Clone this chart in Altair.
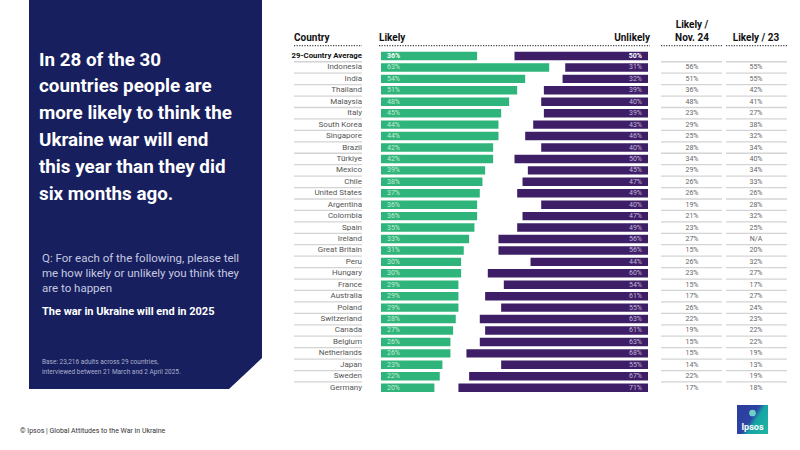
import altair as alt
import pandas as pd

countries = ["29-Country Average", "Indonesia", "India", "Thailand", "Malaysia", "Italy",
             "South Korea", "Singapore", "Brazil", "Türkiye", "Mexico", "Chile",
             "United States", "Argentina", "Colombia", "Spain", "Ireland", "Great Britain",
             "Peru", "Hungary", "France", "Australia", "Poland", "Switzerland", "Canada",
             "Belgium", "Netherlands", "Japan", "Sweden", "Germany"]
likely = [36, 63, 54, 51, 48, 45, 44, 44, 42, 42, 39, 38, 37, 36, 36, 35, 33, 31, 30, 30,
          29, 29, 29, 28, 27, 26, 26, 23, 22, 20]
unlikely = [50, 31, 32, 39, 40, 39, 43, 46, 40, 50, 45, 47, 49, 40, 47, 49, 56, 56, 44, 60,
            54, 61, 55, 63, 61, 63, 68, 55, 67, 71]
likely_nov24 = ["", "56%", "51%", "36%", "48%", "23%", "29%", "25%", "28%", "34%", "29%",
                "26%", "26%", "19%", "21%", "23%", "27%", "15%", "26%", "23%", "15%", "17%",
                "26%", "22%", "19%", "15%", "15%", "14%", "22%", "17%"]
likely_23 = ["", "55%", "55%", "42%", "41%", "27%", "38%", "32%", "34%", "40%", "34%", "33%",
             "26%", "28%", "32%", "25%", "N/A", "20%", "32%", "27%", "17%", "27%", "24%",
             "23%", "22%", "22%", "19%", "13%", "19%", "18%"]

title_lines = ["In 28 of the 30", "countries people are", "more likely to think the",
               "Ukraine war will end", "this year than they did", "six months ago."]
question_lines = ["Q: For each of the following, please tell",
                  "me how likely or unlikely you think they", "are to happen"]
statement = "The war in Ukraine will end in 2025"
base_lines = ["Base: 23,216 adults across 29 countries,",
              "interviewed between 21 March and 2 April 2025."]
footer = "© Ipsos | Global Attitudes to the War in Ukraine"

GREEN = "#2fb57b"
PURPLE = "#3e1f67"
NAVY = "#171f5e"
FONT = "Roboto"

df = pd.DataFrame({
    "country": countries,
    "likely": likely,
    "unlikely": unlikely,
    "nov24": likely_nov24,
    "y23": likely_23,
})
df["idx"] = range(len(df))

xs = alt.Scale(domain=[0, 100], range=[381, 648])
ys = alt.Scale(domain=[-0.5, 29.5], range=[50.3, 393.4])

base = alt.Chart(df).transform_calculate(
    zero="0",
    hundred="100",
    ustart="100 - datum.unlikely",
    y0="datum.idx - 0.37",
    y1="datum.idx + 0.37",
    yb="datum.idx + 0.5",
    llab="datum.likely + '%'",
    ulab="datum.unlikely + '%'",
)

green = base.mark_rect(color=GREEN).encode(
    x=alt.X("zero:Q", scale=xs, axis=None), x2="likely:Q",
    y=alt.Y("y0:Q", scale=ys, axis=None), y2="y1:Q")
purple = base.mark_rect(color=PURPLE).encode(
    x=alt.X("ustart:Q", scale=xs, axis=None), x2="hundred:Q",
    y=alt.Y("y0:Q", scale=ys, axis=None), y2="y1:Q")

rest = base.transform_filter("datum.idx > 0")
avg = base.transform_filter("datum.idx == 0")
Yc = alt.Y("idx:Q", scale=ys, axis=None)

lab_l = rest.mark_text(align="left", baseline="middle", dx=6, fontSize=7, font=FONT,
                       color="#c6ebd8").encode(
    x=alt.X("zero:Q", scale=xs, axis=None), y=Yc, text="llab:N")
lab_u = rest.mark_text(align="right", baseline="middle", dx=-6, fontSize=7, font=FONT,
                       color="#c4b6da").encode(
    x=alt.X("hundred:Q", scale=xs, axis=None), y=Yc, text="ulab:N")
avg_l = avg.mark_text(align="left", baseline="middle", dx=6, fontSize=7, font=FONT,
                      fontWeight="bold", color="white").encode(
    x=alt.X("zero:Q", scale=xs, axis=None), y=Yc, text="llab:N")
avg_u = avg.mark_text(align="right", baseline="middle", dx=-6, fontSize=7, font=FONT,
                      fontWeight="bold", color="white").encode(
    x=alt.X("hundred:Q", scale=xs, axis=None), y=Yc, text="ulab:N")

names = rest.mark_text(align="right", baseline="middle", fontSize=8, font=FONT,
                       color="#555555").encode(x=alt.value(362), y=Yc, text="country:N")
avg_name = avg.mark_text(align="right", baseline="middle", fontSize=7.8, font=FONT,
                         fontWeight="bold", color="#111111").encode(
    x=alt.value(362), y=Yc, text="country:N")
col1 = rest.mark_text(align="center", baseline="middle", fontSize=7, font=FONT,
                      color="#666666").encode(x=alt.value(692), y=Yc, text="nov24:N")
col2 = rest.mark_text(align="center", baseline="middle", fontSize=7, font=FONT,
                      color="#666666").encode(x=alt.value(756), y=Yc, text="y23:N")

sep = base.transform_filter("datum.idx < 29")
Yb = alt.Y("yb:Q", scale=ys, axis=None)
sep_layers = [
    sep.mark_rule(color="#d4d4d4", strokeWidth=1.3).encode(
        x=alt.value(x1), x2=alt.value(x2), y=Yb)
    for x1, x2 in [(294, 362), (661, 722), (726, 787)]
]

one = pd.DataFrame({"a": [1]})
deco = alt.Chart(one)


def txt(s, x, y, size, color, weight="normal", align="left"):
    return deco.mark_text(align=align, baseline="alphabetic", fontSize=size, font=FONT,
                          fontWeight=weight, color=color).encode(
        x=alt.value(x), y=alt.value(y), text=alt.value(s))


panel = deco.mark_point(
    shape="M-116.5,-194.5 L116.5,-194.5 L116.5,163.5 L83.5,194.5 L-116.5,194.5 Z",
    size=4, filled=True, fill=NAVY, opacity=1, strokeWidth=0).encode(
    x=alt.value(145.5), y=alt.value(194.5))

deco_layers = [panel]
for i, line in enumerate(title_lines):
    deco_layers.append(txt(line, 39, 65.5 + i * 26.9, 18.8, "white", "bold"))
for i, line in enumerate(question_lines):
    deco_layers.append(txt(line, 42, 262 + i * 15, 11.5, "#c6c9e0"))
deco_layers.append(txt(statement, 42, 315, 11, "white", "bold"))
for i, line in enumerate(base_lines):
    deco_layers.append(txt(line, 42, 364 + i * 10, 6.5, "#aab0cc"))
deco_layers.append(txt(footer, 20, 432.5, 7, "#333333"))

# headers
deco_layers += [
    txt("Country", 294, 40.5, 10, "#111111", "bold"),
    txt("Likely", 379, 40.5, 10, "#111111", "bold"),
    txt("Unlikely", 650, 40.5, 10, "#111111", "bold", "right"),
    txt("Likely /", 692, 28, 10, "#111111", "bold", "center"),
    txt("Nov. 24", 692, 40.5, 10, "#111111", "bold", "center"),
    txt("Likely / 23", 756, 40.5, 10, "#111111", "bold", "center"),
]
for x1, x2 in [(294, 362), (379, 650), (661, 722), (726, 787)]:
    deco_layers.append(deco.mark_rule(color="#444444", strokeWidth=1.2,
                                      strokeDash=[1.2, 1.4]).encode(
        x=alt.value(x1), x2=alt.value(x2), y=alt.value(45.7)))

# logo
grad = {"gradient": "linear", "x1": 0, "y1": 0.2, "x2": 1, "y2": 0.8,
        "stops": [{"offset": 0, "color": "#2b3d9e"}, {"offset": 0.45, "color": "#2d44a3"},
                  {"offset": 0.6, "color": "#16a3a5"}, {"offset": 1, "color": "#1fb3a4"}]}
deco_layers += [
    deco.mark_rect(color=grad).encode(x=alt.value(737), x2=alt.value(768),
                                      y=alt.value(405), y2=alt.value(434)),
    deco.mark_point(shape="circle", size=45, filled=True, color="#6fd0c8", opacity=1).encode(
        x=alt.value(752.5), y=alt.value(413)),
    txt("Ipsos", 752.5, 430, 9, "white", "bold", "center"),
]

chart = alt.layer(
    *deco_layers, green, purple, *sep_layers, lab_l, lab_u, avg_l, avg_u,
    names, avg_name, col1, col2,
).properties(
    width=800, height=450,
    autosize=alt.AutoSizeParams(type="none"),
    padding=0,
    background="white",
).configure_view(stroke=None)

chart.save("out.html", embed_options={"renderer": "svg", "actions": False})
